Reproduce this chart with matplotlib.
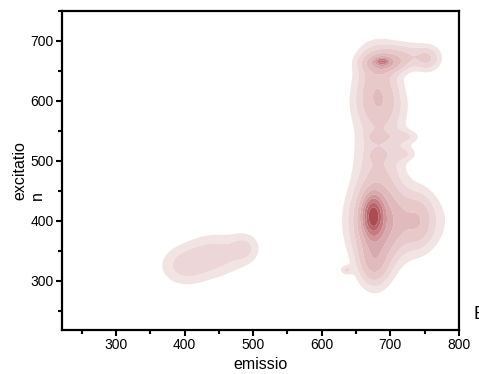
import numpy as np
import matplotlib
matplotlib.use("Agg")
import matplotlib.pyplot as plt
from matplotlib.ticker import MultipleLocator

plt.rcParams["font.family"] = ["Liberation Sans", "DejaVu Sans"]

# density components: emission centre, excitation centre, widths, weight
em_centre = [400, 445, 488,
             675, 680, 712, 742, 676, 636,
             684, 684, 680, 680, 720, 718,
             680, 715, 755, 690, 688]
ex_centre = [325, 343, 355,
             408, 395, 400, 400, 330, 318,
             525, 595, 540, 510, 540, 512,
             640, 675, 670, 663, 666]
em_width = [24, 28, 15,
            9, 22, 40, 14, 14, 6,
            24, 24, 8, 7, 16, 14,
            20, 30, 12, 18, 6]
ex_width = [22, 24, 17,
            20, 50, 35, 30, 25, 5,
            60, 25, 6, 7, 8, 8,
            35, 15, 14, 10, 4]
weight = [0.06, 0.065, 0.05,
          0.6, 0.18, 0.1, 0.06, 0.1, 0.05,
          0.07, 0.065, 0.05, 0.04, 0.045, 0.04,
          0.09, 0.08, 0.065, 0.15, 0.3]

levels = [0.03, 0.06, 0.1, 0.16, 0.24, 0.34, 0.46, 0.62, 0.8, 1.5]
palette = ["#f3e4e4", "#edd6d7", "#e7c9ca", "#e0babc", "#d8aaad", "#cf9599", "#c47c82", "#b9646b", "#ad4b53"]

xg = np.linspace(221, 800, 500)
yg = np.linspace(218, 750, 500)
X, Y = np.meshgrid(xg, yg)
Z = np.zeros_like(X)
for cx, cy, sx, sy, w in zip(em_centre, ex_centre, em_width, ex_width, weight):
    Z += w * np.exp(-((X - cx) ** 2 / (2 * sx ** 2) + (Y - cy) ** 2 / (2 * sy ** 2)))
Z = Z / Z.max()

fig = plt.figure(figsize=(4.79, 3.74), dpi=100)
ax = fig.add_axes([0.129, 0.1176, 0.829, 0.853])
ax.contourf(X, Y, Z, levels=levels, colors=palette, antialiased=True)

ax.set_xlim(221, 800)
ax.set_ylim(218, 750)
ax.xaxis.set_minor_locator(MultipleLocator(50))
ax.yaxis.set_minor_locator(MultipleLocator(50))
ax.set_xticks([300, 400, 500, 600, 700, 800])
ax.set_yticks([300, 400, 500, 600, 700])
ax.tick_params(which="major", direction="out", length=4, width=1.5, labelsize=10, pad=2)
ax.tick_params(which="minor", direction="out", length=3, width=1.5)
for s in ax.spines.values():
    s.set_linewidth(1.6)
ax.set_xlabel("emissio", fontsize=11.5, labelpad=3)
ax.set_ylabel("excitatio\nn", fontsize=11.5, linespacing=1.2, multialignment="left")
ax.yaxis.set_label_coords(-0.042, 0.5)
fig.text(0.988, 0.158, "E", fontsize=13, va="center", ha="left")

fig.savefig("out.png", dpi=100)
